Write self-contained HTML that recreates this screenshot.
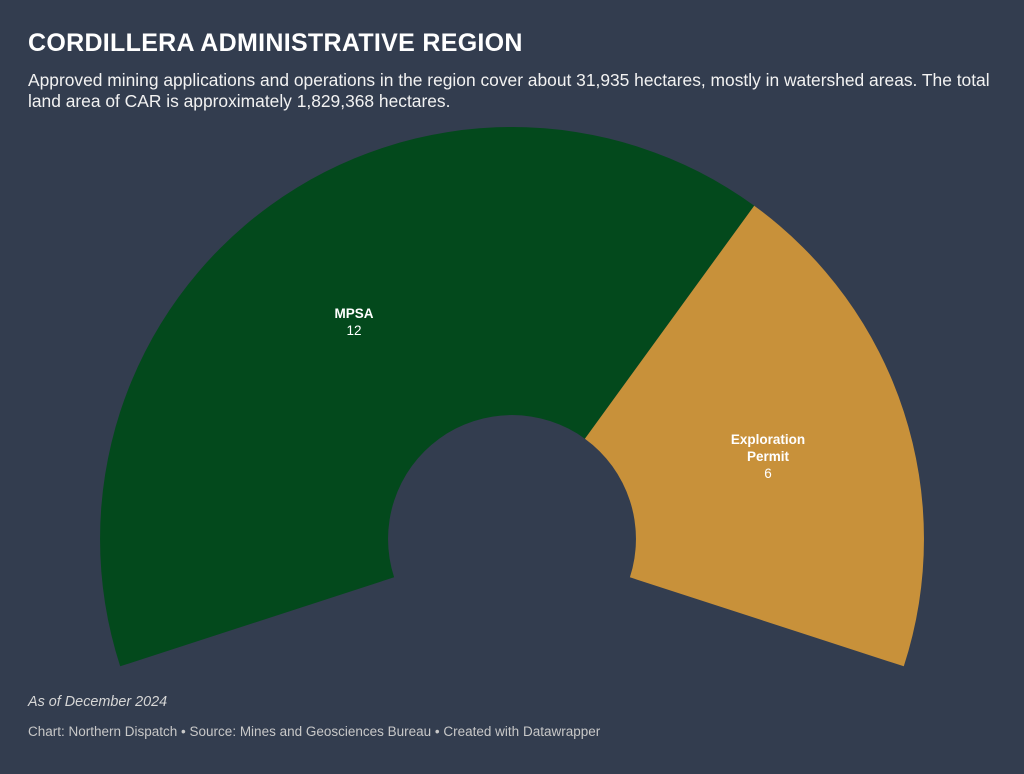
<!DOCTYPE html>
<html><head><meta charset="utf-8"><style>
body{margin:0;width:1024px;height:774px;background:#333d4f;font-family:"Liberation Sans",sans-serif;color:#fff;position:relative;overflow:hidden}
.t{position:absolute;left:28px;top:29px;font-size:25px;font-weight:bold;letter-spacing:0.3px}
.s{position:absolute;left:28px;top:70px;width:990px;font-size:17.4px;line-height:21px;color:#f2f2f2;white-space:nowrap}
.n{position:absolute;left:28px;top:694px;font-size:14.4px;font-style:italic;color:#d6d6d6}
.f{position:absolute;left:28px;top:724px;font-size:13.5px;color:#c8c8c8}
</style></head><body>
<div class="t">CORDILLERA ADMINISTRATIVE REGION</div>
<div class="s">Approved mining applications and operations in the region cover about 31,935 hectares, mostly in watershed areas. The total<br>land area of CAR is approximately 1,829,368 hectares.</div>
<svg width="1024" height="774" style="position:absolute;left:0;top:0">
<path d="M120.2,666.3 A412,412 0 0 1 754.2,205.7 L584.9,438.7 A124,124 0 0 0 394.1,577.3 Z" fill="#03491c"/>
<path d="M754.2,205.7 A412,412 0 0 1 903.8,666.3 L629.9,577.3 A124,124 0 0 0 584.9,438.7 Z" fill="#c8913a"/>
<g font-family="Liberation Sans, sans-serif" font-size="13.5" fill="#fff" text-anchor="middle">
<text x="354" y="318" font-weight="bold">MPSA</text>
<text x="354" y="335">12</text>
<text x="768" y="444" font-weight="bold">Exploration</text>
<text x="768" y="461" font-weight="bold">Permit</text>
<text x="768" y="478">6</text>
</g>
</svg>
<div class="n">As of December 2024</div>
<div class="f">Chart: Northern Dispatch • Source: Mines and Geosciences Bureau • Created with Datawrapper</div>
</body></html>
